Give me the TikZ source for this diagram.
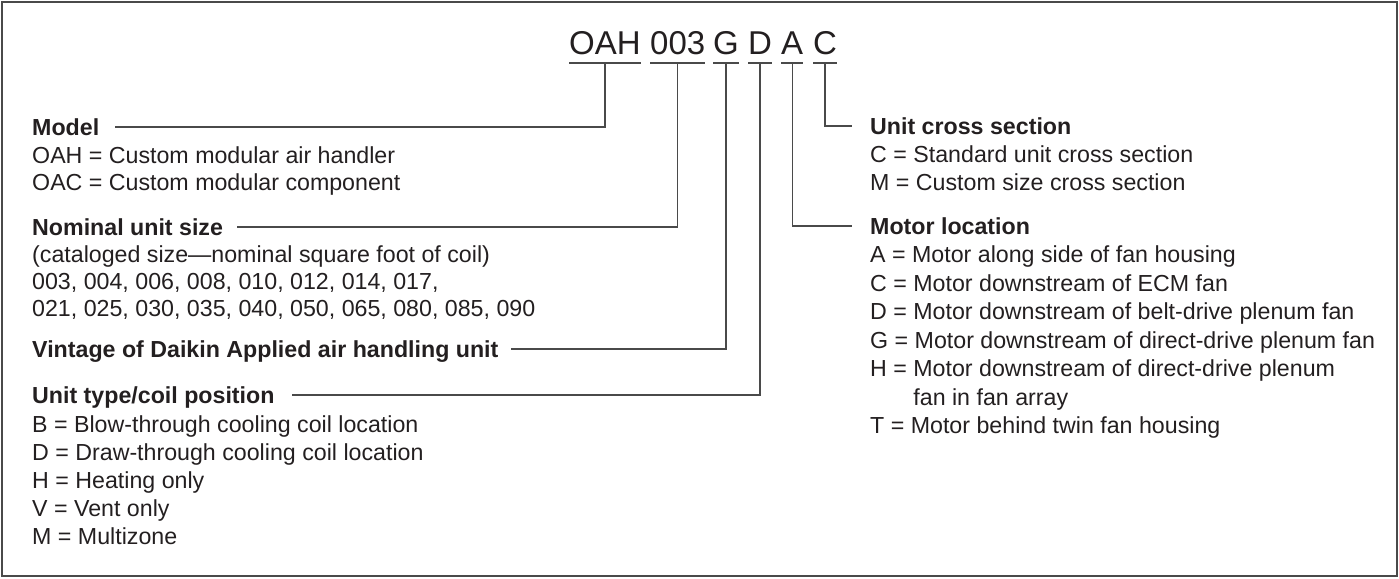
\documentclass[tikz,border=0pt]{standalone}
\usepackage{fontspec}
\setmainfont{Liberation Sans}
\usetikzlibrary{calc}
\definecolor{ink}{HTML}{231F20}
\definecolor{rulec}{HTML}{4A4A4A}
\begin{document}
\begin{tikzpicture}[x=1pt,y=-1pt,
  txt/.style={anchor=base west, inner sep=0pt, font=\fontsize{23.2}{28}\selectfont, text=ink},
  hd/.style={anchor=base west, inner sep=0pt, font=\fontsize{23.2}{28}\selectfont\bfseries, text=ink},
  codew/.style={anchor=base west, inner sep=0pt, font=\fontsize{33}{40}\selectfont, text=ink},
  ln/.style={draw=rulec, line width=1.3pt}]
\useasboundingbox (0,0) rectangle (1399,578);
\draw[ln] (2,2) rectangle (1397,576);
% code
\node[codew] (wOAH) at (569,55) {OAH};
\node[codew] (w003) at (650,55) {003};
\node[codew] (wG) at (713,55) {G};
\node[codew] (wD) at (748,55) {D};
\node[codew] (wA) at (781,55) {A};
\node[codew] (wC) at (813,55) {C};
\foreach \w in {wOAH,w003,wG,wD,wA,wC}
  \draw[ln] ($(\w.base west)+(0,8)$) -- ($(\w.base east)+(0,8)$);
% left column (baseline = centre line + 8.3)
\node[hd] (hModel) at (32,135.3) {Model};
\node[txt] (l1) at (32,163.3) {OAH = Custom modular air handler};
\node[txt] (l2) at (32,190.3) {OAC = Custom modular component};
\node[hd] (hNom) at (32,235.3) {Nominal unit size};
\node[txt] (l3) at (32,262.3) {(cataloged size—nominal square foot of coil)};
\node[txt] (l4) at (32,289.3) {003, 004, 006, 008, 010, 012, 014, 017,};
\node[txt] (l5) at (32,316.3) {021, 025, 030, 035, 040, 050, 065, 080, 085, 090};
\node[hd] (hVin) at (32,357.3) {Vintage of Daikin Applied air handling unit};
\node[hd] (hType) at (32,403.3) {Unit type/coil position};
\node[txt] (l6) at (32,432.3) {B = Blow-through cooling coil location};
\node[txt] (l7) at (32,460.3) {D = Draw-through cooling coil location};
\node[txt] (l8) at (32,488.3) {H = Heating only};
\node[txt] (l9) at (32,516.3) {V = Vent only};
\node[txt] (l10) at (32,544.3) {M = Multizone};
% right column
\node[hd] (hCross) at (870,134.3) {Unit cross section};
\node[txt] (r1) at (870,162.3) {C = Standard unit cross section};
\node[txt] (r2) at (870,190.3) {M = Custom size cross section};
\node[hd] (hMotor) at (870,234.3) {Motor location};
\node[txt] (r3) at (870,262.8) {A = Motor along side of fan housing};
\node[txt] (r4) at (870,291.3) {C = Motor downstream of ECM fan};
\node[txt] (r5) at (870,319.8) {D = Motor downstream of belt-drive plenum fan};
\node[txt] (r6) at (870,348.3) {G = Motor downstream of direct-drive plenum fan};
\node[txt] (r7) at (870,376.8) {H = Motor downstream of direct-drive plenum};
\node[txt] (r8) at (870,405.3) {\phantom{H = }fan in fan array};
\node[txt] (r9) at (870,433.8) {T = Motor behind twin fan housing};
% connectors
\draw[ln] ($(wOAH.base)+(0,8)$) |- ($(hModel.base east)+(16,-8.3)$);
\draw[ln] ($(w003.base)+(0,8)$) |- ($(hNom.base east)+(14,-8.3)$);
\draw[ln] ($(wG.base)+(0,8)$) |- ($(hVin.base east)+(12,-8.3)$);
\draw[ln] ($(wD.base)+(0,8)$) |- ($(hType.base east)+(17,-8.3)$);
\draw[ln] ($(wA.base)+(0,8)$) |- ($(hMotor.base west)+(-18,-8.3)$);
\draw[ln] ($(wC.base)+(0,8)$) |- ($(hCross.base west)+(-18,-8.3)$);
\end{tikzpicture}
\end{document}
